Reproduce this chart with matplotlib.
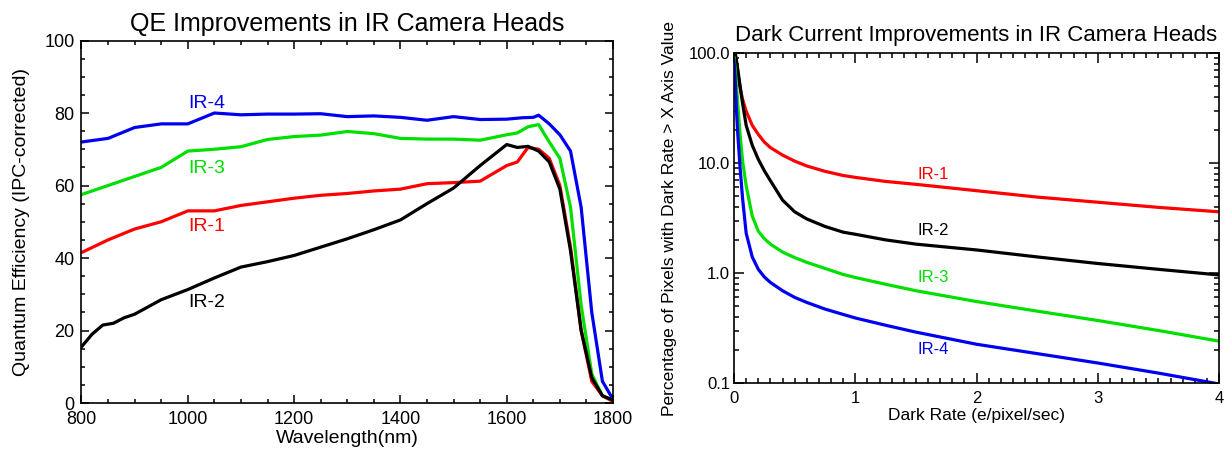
import numpy as np
import matplotlib
matplotlib.use("Agg")
import matplotlib.pyplot as plt
from matplotlib.ticker import MultipleLocator, LogLocator, FuncFormatter

plt.rcParams['font.family'] = ['Liberation Sans', 'DejaVu Sans']

# ---- left panel: QE vs wavelength ----
wave_ir4 = [800, 850, 900, 950, 1000, 1050, 1100, 1150, 1200, 1250, 1300, 1350, 1400, 1450,
            1500, 1550, 1600, 1630, 1650, 1660, 1680, 1700, 1720, 1740, 1760, 1780, 1800]
qe_ir4 = [72, 73, 76, 77, 77, 80, 79.5, 79.7, 79.7, 79.8, 79, 79.2, 78.8, 78,
          79, 78.2, 78.3, 78.7, 78.8, 79.4, 77, 74, 69.5, 54, 25, 6, 1]

wave_ir3 = [800, 850, 900, 950, 1000, 1050, 1100, 1150, 1200, 1250, 1300, 1350, 1400, 1450,
            1500, 1550, 1600, 1620, 1640, 1660, 1680, 1700, 1720, 1740, 1760, 1780, 1800]
qe_ir3 = [57.5, 60, 62.5, 65, 69.5, 70, 70.7, 72.7, 73.5, 73.9, 74.9, 74.3, 73, 72.8,
          72.8, 72.5, 74, 74.5, 76.2, 76.8, 72, 67.5, 54, 27, 8, 2, 0.5]

wave_ir1 = [800, 850, 900, 950, 1000, 1050, 1100, 1150, 1200, 1250, 1300, 1350, 1400, 1450,
            1500, 1550, 1600, 1620, 1640, 1660, 1680, 1700, 1720, 1740, 1760, 1780, 1800]
qe_ir1 = [41.5, 45, 48, 50, 53, 53, 54.5, 55.5, 56.5, 57.3, 57.8, 58.5, 59, 60.5,
          60.8, 61.2, 65.5, 66.5, 70.5, 70, 67.5, 60, 43, 20, 6, 2, 0.5]

wave_ir2 = [800, 820, 840, 860, 880, 900, 950, 1000, 1050, 1100, 1150, 1200, 1250, 1300,
            1350, 1400, 1450, 1500, 1550, 1600, 1620, 1640, 1660, 1680, 1700, 1720, 1740,
            1760, 1780, 1800]
qe_ir2 = [15.5, 19, 21.5, 22, 23.5, 24.5, 28.5, 31.3, 34.5, 37.5, 39, 40.7, 43, 45.3,
          47.8, 50.5, 55, 59.3, 65.5, 71.3, 70.5, 70.8, 69.5, 66.5, 59, 42, 20,
          7, 2, 0.8]

# ---- right panel: percentage of pixels above a dark rate ----
rate = [0, 0.01, 0.02, 0.03, 0.05, 0.07, 0.1, 0.15, 0.2, 0.25, 0.3, 0.4, 0.5, 0.6, 0.75,
        0.9, 1.0, 1.25, 1.5, 2.0, 2.5, 3.0, 3.5, 4.0]
dark_ir1 = [100, 95, 80, 68, 48, 38, 29.6, 22, 18.2, 15.5, 13.8, 11.8, 10.4, 9.4, 8.4,
            7.7, 7.4, 6.8, 6.4, 5.6, 4.9, 4.4, 3.95, 3.6]
dark_ir2 = [110, 100, 85, 72, 50, 35, 22, 14.5, 10.8, 8.5, 6.9, 4.6, 3.6, 3.1, 2.65,
            2.35, 2.25, 2.0, 1.83, 1.62, 1.4, 1.22, 1.08, 0.96]
dark_ir3 = [90, 70, 50, 35, 18, 10.5, 6.2, 3.3, 2.4, 2.05, 1.83, 1.55, 1.38, 1.25, 1.1,
            0.97, 0.91, 0.79, 0.69, 0.55, 0.45, 0.37, 0.30, 0.24]
dark_ir4 = [85, 55, 30, 19, 9, 4.8, 2.3, 1.4, 1.08, 0.92, 0.82, 0.69, 0.6, 0.54, 0.47,
            0.42, 0.39, 0.335, 0.29, 0.225, 0.185, 0.152, 0.123, 0.098]

labels = ['IR-1', 'IR-2', 'IR-3', 'IR-4']
colors = ['#ff0000', '#000000', '#00e000', '#0000f0']

fig = plt.figure(figsize=(12.31, 4.5), dpi=100)
ax1 = fig.add_axes([0.0662, 0.1044, 0.4318, 0.8056])
ax2 = fig.add_axes([0.5963, 0.1489, 0.394, 0.7333])

LW = 2.3

ax1.plot(wave_ir4, qe_ir4, color=colors[3], lw=LW)
ax1.plot(wave_ir3, qe_ir3, color=colors[2], lw=LW)
ax1.plot(wave_ir1, qe_ir1, color=colors[0], lw=LW)
ax1.plot(wave_ir2, qe_ir2, color=colors[1], lw=LW)

ax1.text(1036, 82.7, 'IR-4', color=colors[3], fontsize=14, ha='center', va='center')
ax1.text(1036, 64.8, 'IR-3', color=colors[2], fontsize=14, ha='center', va='center')
ax1.text(1036, 48.7, 'IR-1', color=colors[0], fontsize=14, ha='center', va='center')
ax1.text(1036, 27.6, 'IR-2', color=colors[1], fontsize=14, ha='center', va='center')

ax1.set_xlim(800, 1800)
ax1.set_ylim(0, 100)
ax1.xaxis.set_major_locator(MultipleLocator(200))
ax1.xaxis.set_minor_locator(MultipleLocator(50))
ax1.yaxis.set_major_locator(MultipleLocator(20))
ax1.yaxis.set_minor_locator(MultipleLocator(5))
ax1.tick_params(which='both', direction='in', top=True, right=True, width=1.1)
ax1.tick_params(which='major', length=6, labelsize=13)
ax1.tick_params(which='minor', length=3)
ax1.tick_params(axis='x', pad=6)
ax1.tick_params(axis='y', pad=5)
ax1.set_title('QE Improvements in IR Camera Heads', fontsize=18, pad=7)
ax1.set_xlabel('Wavelength(nm)', fontsize=14, labelpad=1)
ax1.set_ylabel('Quantum Efficiency (IPC-corrected)', fontsize=14, labelpad=10)

for y, c in zip([dark_ir1, dark_ir2, dark_ir3, dark_ir4], colors):
    ax2.plot(rate, y, color=c, lw=LW)

ax2.text(1.64, 7.9, 'IR-1', color=colors[0], fontsize=12, ha='center', va='center')
ax2.text(1.64, 2.42, 'IR-2', color=colors[1], fontsize=12, ha='center', va='center')
ax2.text(1.64, 0.91, 'IR-3', color=colors[2], fontsize=12, ha='center', va='center')
ax2.text(1.64, 0.2, 'IR-4', color=colors[3], fontsize=12, ha='center', va='center')

ax2.set_yscale('log')
ax2.set_xlim(0, 4)
ax2.set_ylim(0.1, 100)
ax2.xaxis.set_major_locator(MultipleLocator(1))
ax2.xaxis.set_minor_locator(MultipleLocator(0.1))
ax2.yaxis.set_major_locator(LogLocator(base=10))
ax2.yaxis.set_minor_locator(LogLocator(base=10, subs=np.arange(2, 10)))
ax2.yaxis.set_major_formatter(FuncFormatter(lambda v, p: '%.1f' % v))
ax2.tick_params(which='both', direction='in', top=True, right=True, width=1.1)
ax2.tick_params(which='major', length=7, labelsize=12)
ax2.tick_params(which='minor', length=3.5)
ax2.tick_params(axis='x', pad=6)
ax2.tick_params(axis='y', pad=3)
ax2.set_title('Dark Current Improvements in IR Camera Heads', fontsize=16, pad=8.5)
ax2.set_xlabel('Dark Rate (e/pixel/sec)', fontsize=12.5, labelpad=1)
ax2.set_ylabel('Percentage of Pixels with Dark Rate > X Axis Value', fontsize=12.5, labelpad=8)

for ax in (ax1, ax2):
    for s in ax.spines.values():
        s.set_linewidth(1.2)

fig.savefig('out.png', dpi=100)
